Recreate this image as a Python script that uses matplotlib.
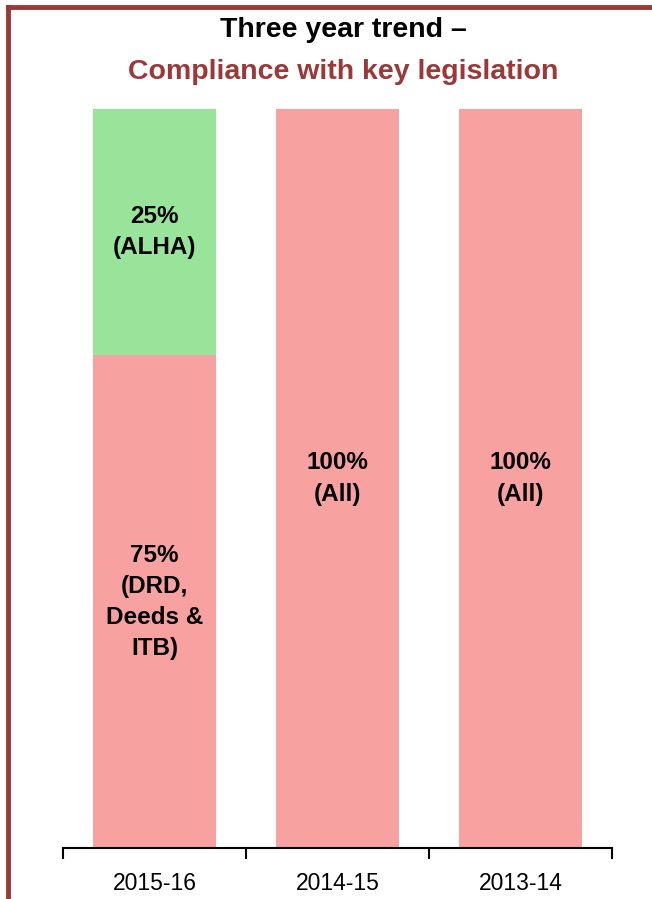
import matplotlib.pyplot as plt
from matplotlib.lines import Line2D

plt.rcParams['font.family'] = ['Liberation Sans Narrow', 'Liberation Sans', 'DejaVu Sans']

years = ['2015-16', '2014-15', '2013-14']
red_vals = [75, 100, 100]
green_vals = [25, 0, 0]
red_labels = ['75%\n(DRD,\nDeeds &\nITB)', '100%\n(All)', '100%\n(All)']
green_labels = ['25%\n(ALHA)', '', '']

pink = '#F8A1A1'
green = '#98E49B'
dark_red = '#9B3838'

fig = plt.figure(figsize=(6.52, 8.99), dpi=100)
ax = fig.add_axes([63/652, 1-848/899, (612-63)/652, (848-109)/899])

x = range(len(years))
ax.bar(x, red_vals, width=0.667, color=pink, zorder=2)
ax.bar(x, green_vals, width=0.667, bottom=red_vals, color=green, zorder=2)

# y axis starts at 25
ymin = 25
ax.set_ylim(ymin, 100)
ax.set_xlim(-0.5, 2.5)

# labels sit in the middle of the visible part of each segment
for i in x:
    ax.text(i, (ymin + red_vals[i]) / 2, red_labels[i], ha='center', va='center',
            fontsize=17.5, fontweight='bold', linespacing=1.45, zorder=3)
    if green_labels[i]:
        ax.text(i, red_vals[i] + green_vals[i] / 2, green_labels[i], ha='center',
                va='center', fontsize=17.5, fontweight='bold', linespacing=1.45, zorder=3)

for s in ['top', 'right', 'left']:
    ax.spines[s].set_visible(False)
ax.spines['bottom'].set_linewidth(1.5)
ax.set_yticks([])
ax.set_xticks([-0.5, 0.5, 1.5, 2.5])
ax.set_xticklabels([])
ax.set_xticks(list(x), minor=True)
ax.set_xticklabels(years, minor=True, fontsize=16.5)
ax.tick_params(axis='x', which='major', length=8, width=1.5, direction='out')
ax.tick_params(axis='x', which='minor', length=0, pad=17)

fig.text(0.527, 1-30/899, 'Three year trend \u2013', ha='center', va='center',
         fontsize=20.5, fontweight='bold', color='black')
fig.text(0.527, 1-72/899, 'Compliance with key legislation', ha='center', va='center',
         fontsize=20.5, fontweight='bold', color=dark_red)

# frame lines (top and left)
fig.add_artist(Line2D([8/652, 1], [1-7/899, 1-7/899], color=dark_red, lw=3.5))
fig.add_artist(Line2D([8/652, 8/652], [0, 1-7/899], color=dark_red, lw=3.5))

fig.savefig('out.png', dpi=100)
